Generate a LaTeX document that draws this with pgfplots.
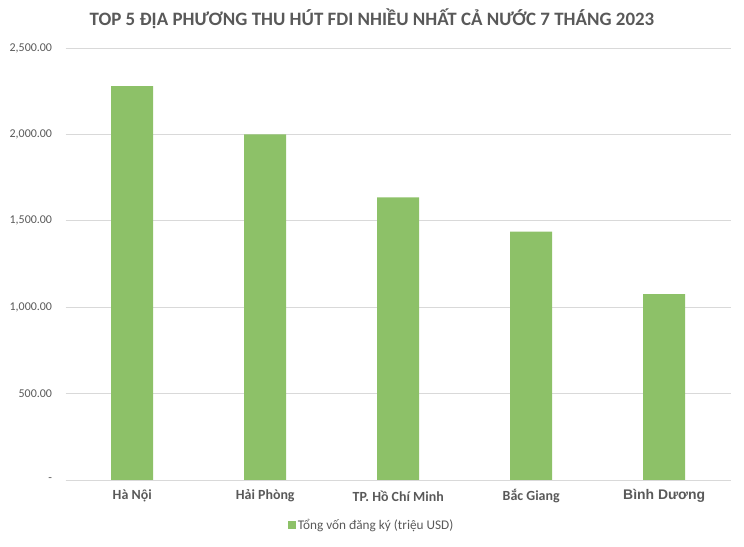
\documentclass[border=0pt]{standalone}
\usepackage{pgfplots}
\pgfplotsset{compat=1.18}
\usepackage{fontspec}
\setmainfont{Carlito}
\newfontfamily\arialfont{Liberation Sans}

\definecolor{barGreen}{RGB}{141,193,104}
\definecolor{txtGray}{RGB}{89,89,89}
\definecolor{gridGray}{RGB}{217,217,217}

\begin{document}
\begin{tikzpicture}[x=1bp,y=1bp]
% page frame: 744 x 547, plot area starts at (65.7,67) from the lower left corner
\useasboundingbox (-65.7,-67) rectangle (678.3,480);
\begin{axis}[
  at={(0,0)}, anchor=south west,
  scale only axis,
  width=665bp, height=432bp,
  xmin=-0.5, xmax=4.5,
  ymin=0, ymax=2500,
  ybar, bar width=42bp,
  axis line style={draw=none},
  axis x line*=bottom,
  x axis line style={draw=gridGray, line width=0.9bp},
  ymajorgrids, grid style={gridGray, line width=0.9bp},
  major tick length=0pt,
  xtick={0,1,2,3,4},
  xticklabels={Hà Nội, Hải Phòng, TP. Hồ Chí Minh, Bắc Giang, {\arialfont\bfseries\fontsize{14}{16}\selectfont Bình Dương}},
  xticklabel style={font=\bfseries\fontsize{14}{16}\selectfont, text=txtGray, anchor=center, yshift=-16bp, inner sep=0pt},
  ytick={0,500,1000,1500,2000,2500},
  yticklabels={{-},{500.00},{1,000.00},{1,500.00},{2,000.00},{2,500.00}},
  yticklabel style={font=\fontsize{12}{14}\selectfont, text=txtGray, anchor=east, inner sep=0pt, xshift=-13.5bp},
  legend style={at={(0.46,-0.104)}, anchor=center, draw=none, fill=none,
    font=\fontsize{13.3}{15}\selectfont, text=txtGray, inner sep=0pt},
  legend image code/.code={\fill[barGreen] (0bp,-4bp) rectangle (8bp,4bp);},
]
\addplot[fill=barGreen, draw=none] coordinates {
  (0,2280) (1,2000) (2,1635) (3,1438) (4,1076)
};
\addlegendentry{Tổng vốn đăng ký (triệu USD)}
\end{axis}
\node[font=\bfseries\fontsize{19}{22}\selectfont, text=txtGray] at (306.3,461) {TOP 5 ĐỊA PHƯƠNG THU HÚT FDI NHIỀU NHẤT CẢ NƯỚC 7 THÁNG 2023};
\end{tikzpicture}
\end{document}
